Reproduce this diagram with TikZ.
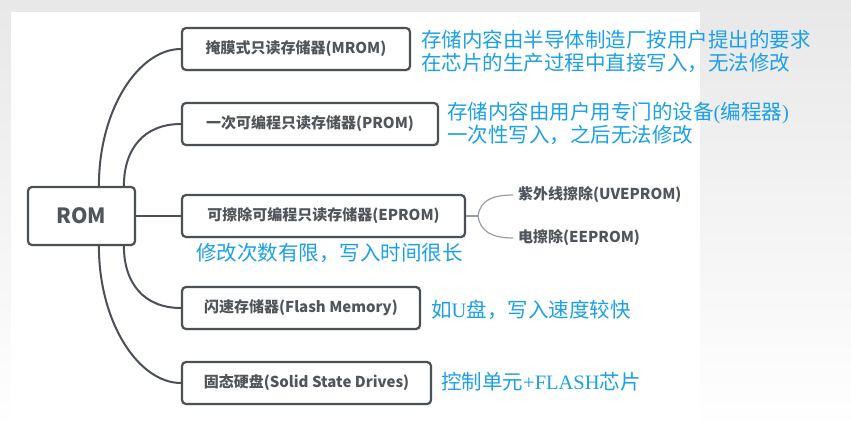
\documentclass[tikz,border=0pt]{standalone}
\usepackage{fontspec}
\newfontfamily\cjk{Noto Sans CJK SC}
\newfontfamily\serifl{Liberation Serif}
\usetikzlibrary{shadows}
\definecolor{bord}{HTML}{4B5057}
\definecolor{txt}{HTML}{50555B}
\definecolor{notec}{HTML}{1CA0E6}
\definecolor{bgtop}{HTML}{E8E8E8}
\definecolor{branchc}{HTML}{9A9EA3}
\begin{document}
\begin{tikzpicture}[x=1pt,y=-1pt,
  box/.style={draw=bord, line width=2.2pt, rounded corners=4pt, fill=white, inner sep=0pt,
    font=\cjk\bfseries\fontsize{15}{18}\selectfont, text=txt,
    drop shadow={shadow xshift=0.8pt, shadow yshift=-1.3pt, opacity=0.18}},
  conn/.style={draw=bord, line width=2pt},
  branchline/.style={draw=branchc, line width=1.2pt},
  leaf/.style={anchor=west, inner xsep=5pt, inner ysep=0pt, text=txt, font=\cjk\bfseries\fontsize{15}{18}\selectfont},
  notetext/.style={text=notec, font=\cjk\fontsize{20.5}{23}\selectfont, anchor=west, inner sep=0pt, align=left}]
\useasboundingbox (0,0) rectangle (851,431);
\shade[top color=bgtop, bottom color=white] (0,0) rectangle (851,431);
\fill[white] (11,12) rectangle (700,431);

% boxes
\node[box, minimum width=107pt, minimum height=58pt, font=\cjk\bfseries\fontsize{21}{24}\selectfont] (rom) at (81.5,216) {ROM};
\node[box, minimum width=228pt, minimum height=42pt] (mrom) at (296,49) {掩膜式只读存储器(MROM)};
\node[box, minimum width=256pt, minimum height=42pt] (prom) at (310,124) {一次可编程只读存储器(PROM)};
\node[box, minimum width=283pt, minimum height=42pt] (eprom) at (323.5,216) {可擦除可编程只读存储器(EPROM)};
\node[box, minimum width=238pt, minimum height=42pt] (flash) at (301,308) {闪速存储器(Flash Memory)};
\node[box, minimum width=249pt, minimum height=42pt] (ssd) at (306.5,383) {固态硬盘(Solid State Drives)};

% connectors
\draw[conn] ([xshift=72pt]rom.north west) .. controls +(0,-77) and +(-42,0) .. (mrom.west);
\draw[conn] ([xshift=97pt]rom.north west) .. controls +(0,-37) and +(-37,0) .. (prom.west);
\draw[conn] (rom.east) -- (eprom.west);
\draw[conn] ([xshift=97pt]rom.south west) .. controls +(0,37) and +(-37,0) .. (flash.west);
\draw[conn] ([xshift=72pt]rom.south west) .. controls +(0,77) and +(-42,0) .. (ssd.west);

% EPROM branches
\node[leaf] (uv) at (513,195) {紫外线擦除(UVEPROM)};
\node[leaf] (ee) at (513,238) {电擦除(EEPROM)};
\coordinate (bj) at ([xshift=12pt]eprom.east);
\draw[branchline] (eprom.east) -- (bj);
\draw[branchline] (bj) .. controls +(2,-16) and +(-20,0) .. (uv.west);
\draw[branchline] (bj) .. controls +(2,16) and +(-20,0) .. (ee.west);

% notes
\node[notetext] (n1) at (421,51.5) {存储内容由半导体制造厂按用户提出的要求\\在芯片的生产过程中直接写入，无法修改};
\node[notetext] (n2) at (447,123.5) {存储内容由用户用专门的设备{\serifl(}编程器{\serifl)}\\一次性写入，之后无法修改};
\node[notetext] (n3) at (196,253) {修改次数有限，写入时间很长};
\node[notetext] (n4) at (431,310) {如{\serifl U}盘，写入速度较快};
\node[notetext] (n5) at (441,382) {控制单元{\serifl +FLASH}芯片};
\end{tikzpicture}
\end{document}
